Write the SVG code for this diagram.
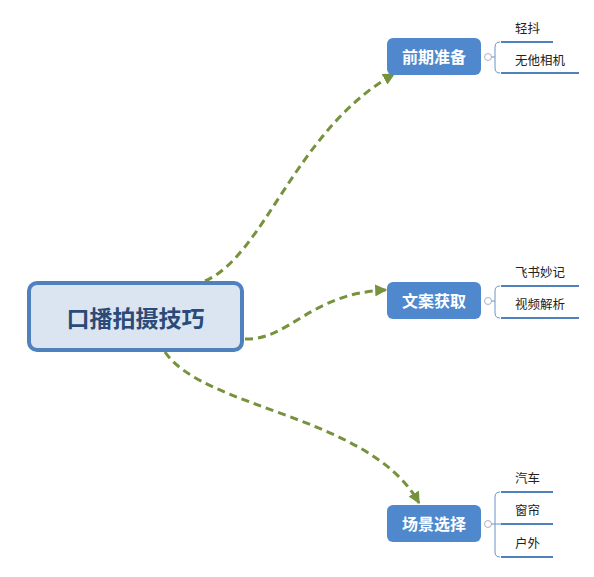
<svg xmlns="http://www.w3.org/2000/svg" width="594" height="577" viewBox="0 0 594 577">
<defs>
<marker id="arr" viewBox="0 0 10 10" refX="9" refY="5" markerWidth="4" markerHeight="4" orient="auto" markerUnits="strokeWidth">
<path d="M0,0 L10,5 L0,10 z" fill="#76923c"/>
</marker>
<style>
.conn{fill:none;stroke:#76923c;stroke-width:3;stroke-dasharray:8 5;}
.main{fill:#4f88cc;}
.mt{font-family:"Noto Sans CJK SC","Noto Sans",sans-serif;font-size:16px;font-weight:bold;fill:#fff;text-anchor:middle;}
.st{font-family:"Noto Sans CJK SC","Noto Sans",sans-serif;font-size:12.5px;fill:#222;}
.ul{stroke:#4f81bd;stroke-width:2;fill:none;}
.br{stroke:#6f93c4;stroke-width:1;fill:none;}
.dot{fill:#fff;stroke:#b0b0c0;stroke-width:1;}
</style>
</defs>
<rect width="594" height="577" fill="#fff"/>
<g id="connectors">
<path class="conn" d="M205,281 C265,255 295,130 394,74" marker-end="url(#arr)"/>
<path class="conn" d="M245,339 C290,340 310,293 386,290" marker-end="url(#arr)"/>
<path class="conn" d="M165,352 C205,410 370,415 419,503" marker-end="url(#arr)"/>
</g>
<g id="center">
<rect x="29" y="283" width="213" height="67" rx="8" fill="#dbe5f1" stroke="#4f81bd" stroke-width="4"/>
<text x="135.5" y="327" font-family="'Noto Sans CJK SC','Noto Sans',sans-serif" font-size="23" font-weight="bold" fill="#2b4a78" text-anchor="middle">口播拍摄技巧</text>
</g>
<g id="node-qianqi">
<rect class="main" x="387" y="38" width="94" height="37" rx="6"/>
<text class="mt" x="434" y="62.5">前期准备</text>
<circle class="dot" cx="488" cy="57" r="3.5"/>
<path class="br" d="M491.5,57 H495 M500,42 Q495,42 495,47 V68 Q495,73 500,73"/>
<line class="ul" x1="501" y1="42" x2="553" y2="42"/>
<line class="ul" x1="501" y1="73" x2="579" y2="73"/>
<text class="st" x="515" y="33">轻抖</text>
<text class="st" x="515" y="65">无他相机</text>
</g>
<g id="node-wenan">
<rect class="main" x="387" y="282" width="94" height="37" rx="6"/>
<text class="mt" x="434" y="306.5">文案获取</text>
<circle class="dot" cx="488" cy="301" r="3.5"/>
<path class="br" d="M491.5,301 H495 M500,286 Q495,286 495,291 V313 Q495,318 500,318"/>
<line class="ul" x1="501" y1="286" x2="579" y2="286"/>
<line class="ul" x1="501" y1="318" x2="579" y2="318"/>
<text class="st" x="515" y="277">飞书妙记</text>
<text class="st" x="515" y="309">视频解析</text>
</g>
<g id="node-changjing">
<rect class="main" x="387" y="505" width="94" height="37" rx="6"/>
<text class="mt" x="434" y="529.5">场景选择</text>
<circle class="dot" cx="488" cy="524" r="3.5"/>
<path class="br" d="M491.5,524 H501 M500,492 Q495,492 495,497 V552 Q495,557 500,557"/>
<line class="ul" x1="501" y1="492" x2="553" y2="492"/>
<line class="ul" x1="501" y1="524" x2="553" y2="524"/>
<line class="ul" x1="501" y1="557" x2="553" y2="557"/>
<text class="st" x="515" y="483">汽车</text>
<text class="st" x="515" y="515">窗帘</text>
<text class="st" x="515" y="548">户外</text>
</g>
</svg>
